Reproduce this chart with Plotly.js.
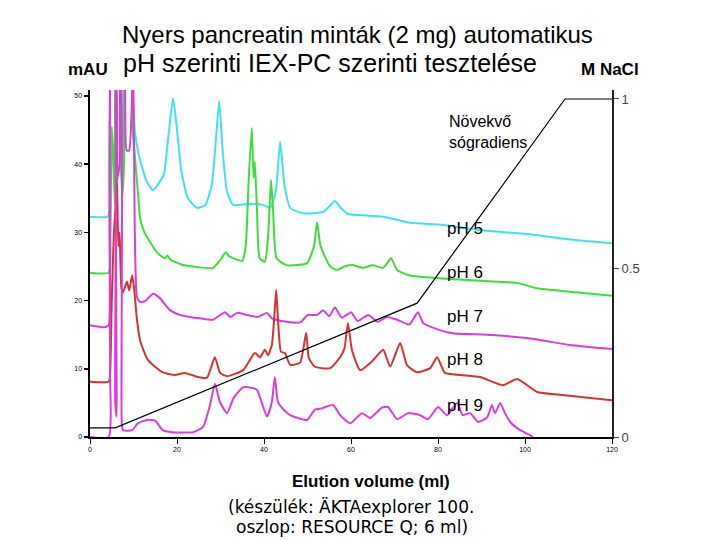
<!DOCTYPE html>
<html>
<head>
<meta charset="utf-8">
<script src="https://cdn.plot.ly/plotly-3.0.1.min.js"></script>
<style>html,body{margin:0;padding:0;background:#fff;}#chart{width:720px;height:540px;}</style>
</head>
<body>
<div id="chart"></div>
<script>
// ---- Data ----
const seriesNames = ["pH 5", "pH 6", "pH 7", "pH 8", "pH 9"];

const ph5X = [0,4,4.5,4.8,5.0,6.6,7.2,7.6,8.0,9.0,9.8,10.3,11,12,13,14.5,16,17,18,19.1,20,21,22.5,24.6,26.5,28,29,29.7,30.5,31.5,32.9,35,37.5,40,41.4,42.7,43.7,44.7,46,49,53.6,55,56.3,57.8,59.3,63,67.4,73.6,81.1,90,100,110,120];
const ph5Y = [32.3,32.3,33,40,55,55,38,40,55,55,50,45,42,39.5,37.5,36.2,37.4,38.5,44,49.7,45,39,35,33.6,34,37,44,49.3,42,36,34,34.1,34.2,34,33.6,36,43.3,37,33.6,32.8,33,33.8,34.6,33.5,32.7,32.5,32.3,31.4,31.1,30.3,29.8,29,28.4];

const ph6X = [0,4.3,4.7,5.0,5.3,5.7,6.1,6.6,7.0,7.4,7.8,8.3,9.2,9.8,10.3,11,11.5,12.5,14.2,15.5,17.2,17.8,18.5,21,23.7,28.3,30,31.2,32,33,35,35.8,36.5,37.2,37.6,37.9,38.4,39,40.2,41,41.6,42.1,42.9,45.2,49.9,51.5,52.2,53,55.2,56.8,58.5,60.5,62.8,65,67.4,69.2,70.6,72.9,75.9,82,89.7,95.9,98.2,102.8,110.3,120];
const ph6Y = [24.1,24.1,30,45.5,42,34,55,55,42,35,39.5,55,55,45,41.3,36,32.1,30,28.2,27,26.2,26.6,26,25.3,25,24.8,26,27.1,26.5,26.2,25.8,28,38,45.3,38,40.3,33,26.2,25.7,30,37.7,33,26.2,25.2,25.5,28,31.5,28,25,24.5,25,25.2,24.8,25.2,24.8,26.2,24.5,23.8,23.5,23.2,22.9,22.7,22.6,21.8,21.3,20.7];

const ph7X = [0,3.4,4.3,4.6,5.0,5.8,6.3,6.8,7.2,7.8,8.4,9.0,9.9,10.3,10.8,11.5,12.6,14.5,16,18.4,20.7,23,25.3,28.3,31,32.3,33.8,36,38.6,40.7,41.8,45.3,48.3,50.1,52.2,53.6,55,56.3,57.9,60,61.5,64,66.1,68.3,70.6,73.4,75.4,76.6,79,83.4,91.3,100.5,110.3,120];
const ph7Y = [16.4,16.1,16.4,20,55,55,38,40,55,55,42,42,55,30,20.5,19.8,19.9,21,20.4,18.6,17.9,17.6,17.4,17.2,18.3,17.6,18.2,17.9,17.6,18.2,17.4,16.9,16.8,17.9,17.9,18.6,17.7,19,17.5,18.3,17,17.9,16.9,17.6,17.2,16.5,18.3,16.7,16,15.2,15,14.5,13.5,12.9];

const ph8X = [0,4.3,4.6,5.0,5.5,6.0,6.2,6.5,6.8,7.2,7.6,8.5,9.0,9.7,10.1,10.8,11.5,13.3,16.6,19.5,21.8,24.8,26.9,28.7,29.9,31.5,35.2,37.9,39.1,40.2,40.9,41.8,42.3,42.8,43.2,43.9,44.8,46,48.3,49.7,50.3,51.7,55.2,57.5,58.5,59.3,60.2,62.1,65,67.4,69,71.3,72.9,75.2,78.2,79.8,81.6,85.1,89.7,94.9,98.2,102.8,108,120];
const ph8Y = [8.1,8.1,9,20,30,35,38,28,30,22,21.2,22.8,21.5,23.7,22,17.2,14.2,11.3,9.5,9.1,9.4,8.8,8.7,11.7,9.4,8.9,9.8,12.3,11.7,12.8,12,13.5,17,21.6,17.4,12.5,12.3,10.6,10.9,15.3,11.6,10.3,10.1,11.7,13,16.7,12.8,9.8,11.2,12.8,10.3,13.8,10.5,9.5,10.1,11.7,9.4,9.1,8.8,7.6,8.5,6.6,6.2,5.4];

const ph9X = [0,4.3,4.6,5.0,5.5,5.8,6.1,6.4,6.9,7.3,7.6,9.7,11,13.1,15,16.7,19,23.7,26,27.6,28.7,29.9,31.5,33,35.2,37.2,38.4,40.7,41.8,42.5,43.2,44.1,46,49.9,51.7,53.3,55.9,57.5,59.8,62.5,64.4,67.1,68.5,70.6,73.1,75.9,77.7,80,82.1,84.4,85.7,87.4,89.2,91.3,92.4,93.1,94.3,95.4,96.6,98.9,101.1,101.8];
const ph9Y = [0,0,10,55,55,5,3,55,55,2,1,1,2,2.5,2.4,1,0.7,0.7,1.5,4.7,7.8,5.1,3.5,5.7,7.3,7.2,6.9,3,5.1,8.8,5.1,4.3,3.2,2.5,4,4.2,4.7,3.2,2,3.5,2.8,4.3,4.4,2.6,3.5,3.2,2.6,4.4,3.2,5,3.2,3.5,2.2,2.9,4.7,3.5,5,3.5,2.2,1,0.3,0];

const gradX = [0,5.8,75.2,109.2,120];
const gradY = [0.027,0.027,0.396,1.0,1.0];

const leftTicks = [0,10,20,30,40,50];
const rightTicks = [0,0.5,1];
const rightTickText = ["0","0.5","1"];
const xTicks = [0,20,40,60,80,100,120];

// ---- Styles ----
const colors = ["#40e0ee", "#3ddc3d", "#d63ed6", "#d43333", "#d83ed8"];
const xs = [ph5X, ph6X, ph7X, ph8X, ph9X];
const ys = [ph5Y, ph6Y, ph7Y, ph8Y, ph9Y];

const traces = seriesNames.map((n, i) => ({
  x: xs[i], y: ys[i], name: n, type: "scatter", mode: "lines",
  line: {color: colors[i], width: 2, shape: "spline", smoothing: 0.5}, hoverinfo: "skip"
}));
traces.push({
  x: gradX, y: gradY, yaxis: "y2", type: "scatter", mode: "lines",
  line: {color: "#000", width: 1.2}, name: "NaCl"
});

const F = "Liberation Sans, Arial, sans-serif";
const ann = [];
function add(text, x, y, size, opts) {
  ann.push(Object.assign({text: text, x: x, y: y, xref: "paper", yref: "paper",
    showarrow: false, font: {family: F, size: size, color: "#000"},
    xanchor: "center", yanchor: "middle"}, opts || {}));
}
add("Nyers pancreatin minták (2 mg) automatikus", 0.513, 1.161, 24);
add("pH szerinti IEX-PC szerinti tesztelése", 0.460, 1.078, 25);
add("<b>mAU</b>", -0.004, 1.058, 17);
add("<b>M NaCl</b>", 0.996, 1.058, 17);
add("<b>Elution volume (ml)</b>", 0.538, -0.127, 17);
add("(készülék: ÄKTAexplorer 100.", 0.2605, -0.2017, 17, {xanchor: "left", font: {family: "DejaVu Sans", size: 17, color: "#000"}});
add("oszlop: RESOURCE Q; 6 ml)", 0.276, -0.2594, 17, {xanchor: "left", font: {family: "DejaVu Sans", size: 17, color: "#000"}});
add("Növekvő", 0.684, 0.908, 16, {xanchor: "left"});
add("sógradiens", 0.684, 0.850, 16, {xanchor: "left"});
const phLabelY = [0.602, 0.473, 0.346, 0.222, 0.092];
seriesNames.forEach((n, i) => add(n, 0.680, phLabelY[i], 17, {xanchor: "left"}));

const layout = {
  width: 720, height: 540,
  margin: {l: 90, r: 108, t: 90, b: 103},
  paper_bgcolor: "#fff", plot_bgcolor: "#fff",
  showlegend: false,
  xaxis: {range: [0, 120], tickvals: xTicks, showgrid: false, zeroline: false,
    showline: true, linecolor: "#000", linewidth: 2, ticks: "outside", ticklen: 5,
    tickwidth: 1, tickcolor: "#000", tickfont: {family: F, size: 7, color: "#000"}},
  yaxis: {range: [0, 50.88], tickvals: leftTicks, showgrid: false, zeroline: false,
    showline: true, linecolor: "#000", linewidth: 2.5, ticks: "outside", ticklen: 4,
    tickwidth: 1.5, tickcolor: "#000", tickfont: {family: F, size: 7, color: "#000"}},
  yaxis2: {range: [0, 1.0266], overlaying: "y", side: "right", anchor: "x",
    tickvals: rightTicks, ticktext: rightTickText, showgrid: false, zeroline: false,
    showline: true, linecolor: "#222", linewidth: 2, ticks: "outside", ticklen: 5,
    tickwidth: 1, tickcolor: "#444", tickfont: {family: F, size: 13, color: "#444"}},
  annotations: ann
};

Plotly.newPlot("chart", traces, layout, {displayModeBar: false, staticPlot: true});
</script>
</body>
</html>
